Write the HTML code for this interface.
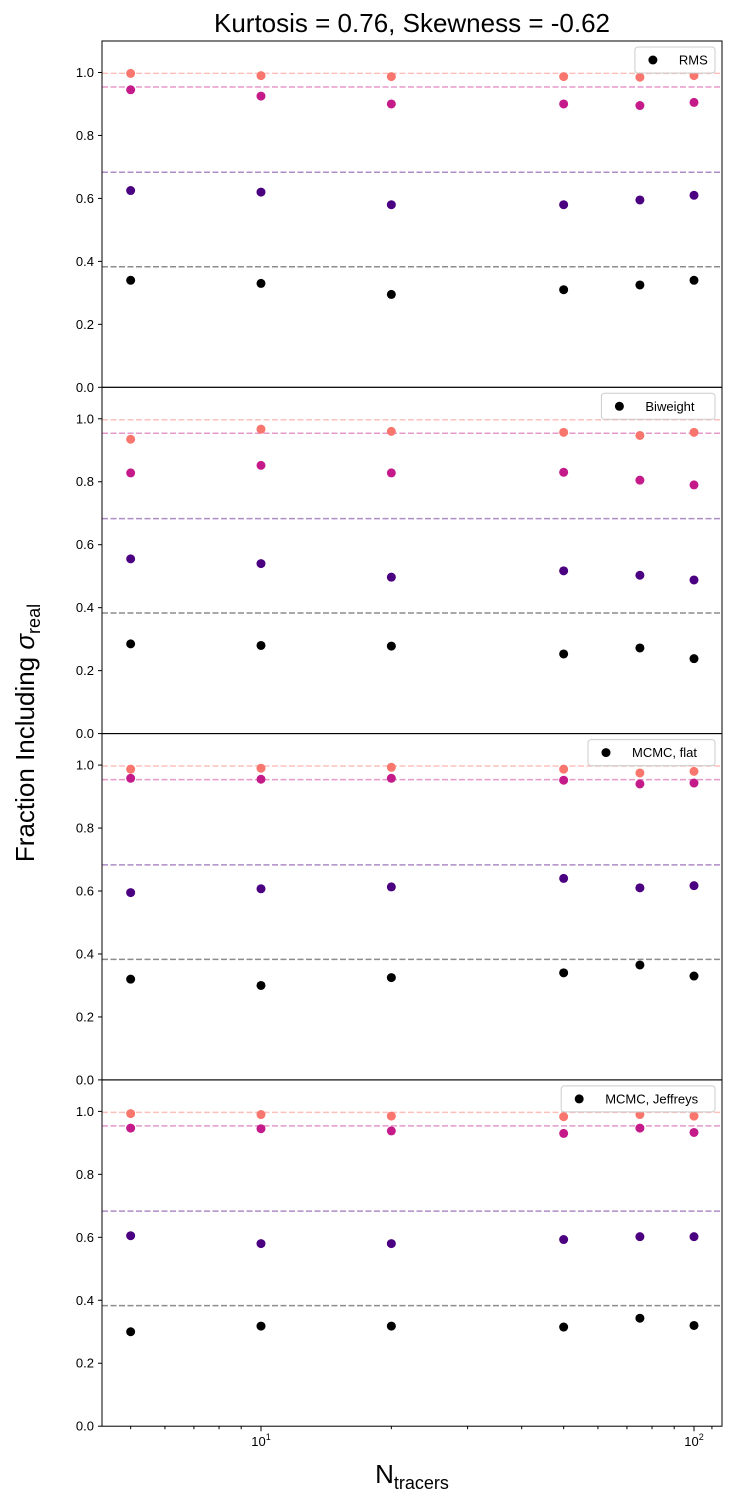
<!DOCTYPE html>
<html><head><meta charset="utf-8"><style>
body{margin:0;background:#fff;}
svg{display:block;font-family:"Liberation Sans","DejaVu Sans",sans-serif;}
</style></head><body>
<svg id="chart" width="735" height="1500" viewBox="0 0 735 1500" xmlns="http://www.w3.org/2000/svg">
<text x="412" y="32" font-size="26" text-anchor="middle">Kurtosis = 0.76, Skewness = -0.62</text>
<text transform="translate(34,733) rotate(-90)" font-size="26" text-anchor="middle">Fraction Including <tspan font-style="italic">σ</tspan><tspan font-size="18" dy="6">real</tspan></text>
<text x="412" y="1483" font-size="26" text-anchor="middle">N<tspan font-size="18" dy="6">tracers</tspan></text>
<g id="plots"></g>
</svg>
<script>
const nTracers = [5, 10, 20, 50, 75, 100];
const panelNames = ["RMS", "Biweight", "MCMC, flat", "MCMC, Jeffreys"];
const refLevels = [0.383, 0.683, 0.954, 0.997];
const yTicks = [0.0, 0.2, 0.4, 0.6, 0.8, 1.0];
const rmsBlack = [0.34,0.33,0.295,0.31,0.325,0.34];
const rmsPurple = [0.625,0.62,0.58,0.58,0.595,0.61];
const rmsMagenta = [0.945,0.925,0.90,0.90,0.895,0.905];
const rmsSalmon = [0.997,0.99,0.987,0.987,0.985,0.99];
const biBlack = [0.285,0.28,0.278,0.253,0.272,0.238];
const biPurple = [0.555,0.54,0.497,0.517,0.503,0.488];
const biMagenta = [0.828,0.852,0.828,0.83,0.805,0.79];
const biSalmon = [0.935,0.967,0.96,0.957,0.947,0.957];
const flatBlack = [0.32,0.30,0.325,0.34,0.365,0.33];
const flatPurple = [0.595,0.607,0.613,0.64,0.61,0.617];
const flatMagenta = [0.958,0.955,0.958,0.952,0.94,0.943];
const flatSalmon = [0.987,0.99,0.993,0.987,0.975,0.98];
const jefBlack = [0.30,0.318,0.318,0.315,0.343,0.32];
const jefPurple = [0.605,0.58,0.58,0.593,0.602,0.602];
const jefMagenta = [0.947,0.945,0.938,0.93,0.947,0.933];
const jefSalmon = [0.993,0.99,0.985,0.983,0.99,0.985];
const panelSeries = [
 [rmsBlack, rmsPurple, rmsMagenta, rmsSalmon],
 [biBlack, biPurple, biMagenta, biSalmon],
 [flatBlack, flatPurple, flatMagenta, flatSalmon],
 [jefBlack, jefPurple, jefMagenta, jefSalmon]];
const colors = ["#000000","#4b0081","#c51b8a","#f8766d"];

const NS="http://www.w3.org/2000/svg";
const L=102,R=722,T0=41,PH=346.3;
const xScale=v=>261+(Math.log10(v)-1)*433;
function mk(tag,attrs,parent){const e=document.createElementNS(NS,tag);for(const k in attrs)e.setAttribute(k,attrs[k]);parent.appendChild(e);return e;}
const root=document.getElementById('plots');
panelSeries.forEach((series,p)=>{
 const top=T0+p*PH, bot=top+PH;
 const yScale=v=>bot-v*(PH/1.1);
 const g=mk('g',{},root);
 
 
 refLevels.forEach((lv,i)=>{
  const ln=mk('line',{x1:L,x2:R,y1:yScale(lv),y2:yScale(lv),stroke:colors[i],'stroke-opacity':0.45,'stroke-width':1.5,'stroke-dasharray':'6,2.5'},g);
  
  
 });
 series.forEach((vals,si)=>{
  vals.forEach((v,i)=>{
   const c=mk('circle',{cx:xScale(nTracers[i]),cy:yScale(v),r:4.5,fill:colors[si]},g);
   
   
  });
 });
 yTicks.forEach(t=>{
  const y=yScale(t);
  mk('line',{x1:L-4,x2:L,y1:y,y2:y,stroke:'#000','stroke-width':1},g);
  const tx=mk('text',{x:L-8,y:y+4.5,'font-size':13,'text-anchor':'end'},g);
  tx.textContent=t.toFixed(1);
  
  
 });
 const fr=mk('rect',{x:L,y:top,width:R-L,height:PH,fill:'none',stroke:'#000','stroke-width':1},g);
 
 
 const name=panelNames[p];
 const w=60+name.length*6.7;
 const x0=R-7-w;
 const lg=mk('g',{},g);
 
 
 mk('rect',{x:x0,y:top+6,width:w,height:26,fill:'#fff',stroke:'#ccc',rx:3},lg);
 mk('circle',{cx:x0+18,cy:top+19,r:4.5,fill:'#000'},lg);
 const lt=mk('text',{x:x0+44,y:top+23.5,'font-size':13},lg);
 lt.textContent=name;
 
 
 if(p===3){
  for(let v=5;v<=110;v+=(v<10?1:10)){
   if(v===10||v===100)continue;
   mk('line',{x1:xScale(v),x2:xScale(v),y1:bot,y2:bot+3,stroke:'#000'},g);
  }
  [[10,'1'],[100,'2']].forEach(([v,e])=>{
   mk('line',{x1:xScale(v),x2:xScale(v),y1:bot,y2:bot+5,stroke:'#000'},g);
   const tx=mk('text',{x:xScale(v),y:bot+20,'font-size':13,'text-anchor':'middle'},g);
   tx.innerHTML='10<tspan font-size="9" dy="-6">'+e+'</tspan>';
   
   
  });
 }
});
</script>
</body></html>
